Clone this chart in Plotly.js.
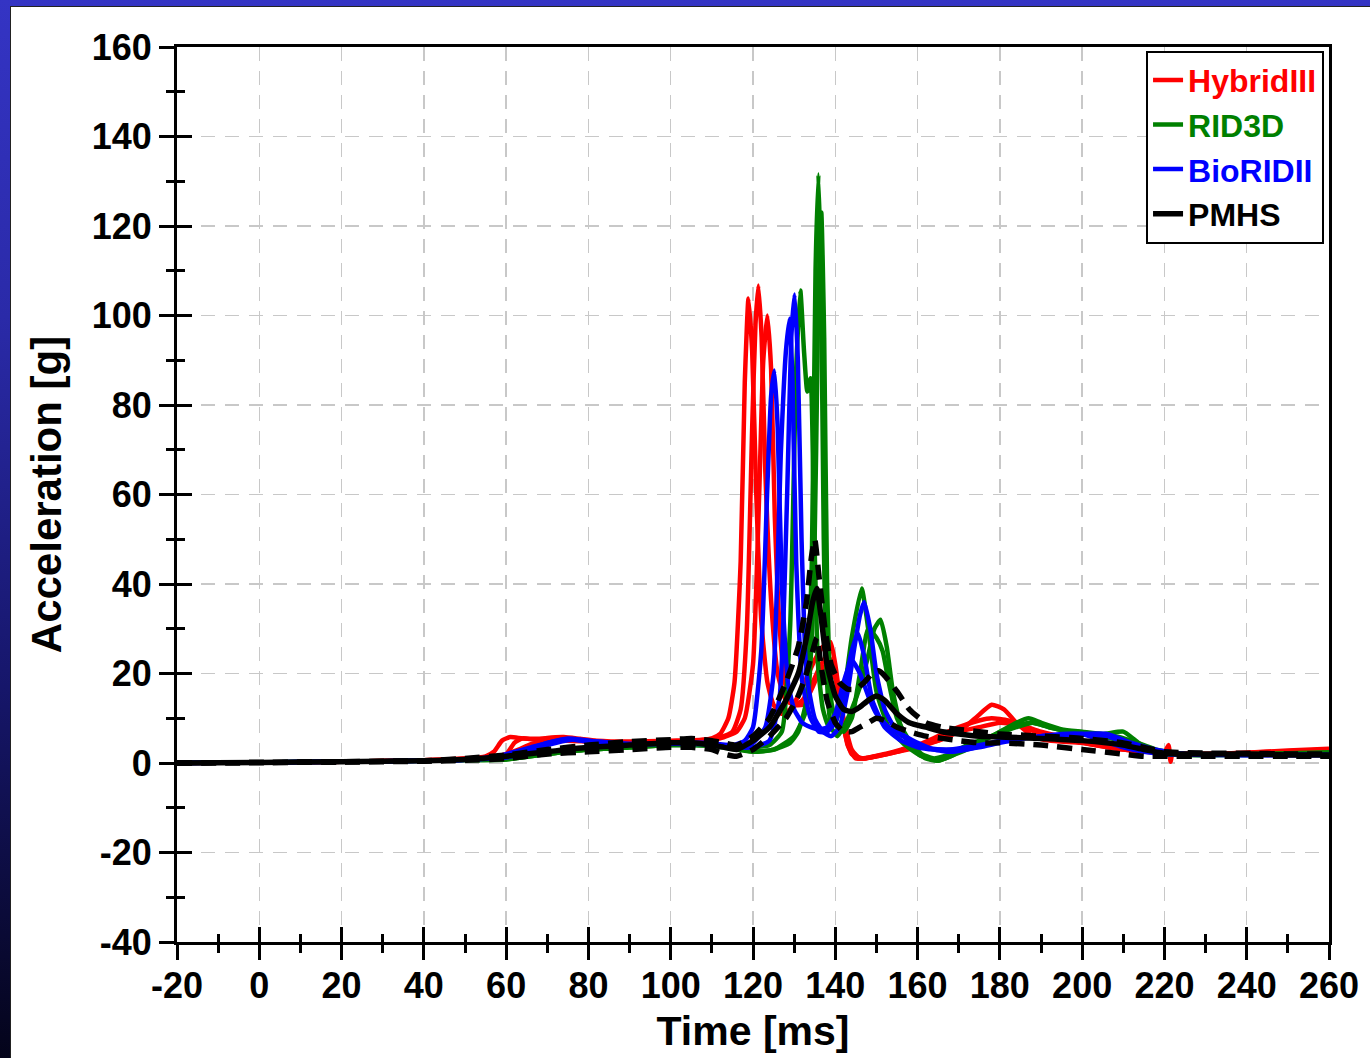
<!DOCTYPE html>
<html><head><meta charset="utf-8">
<script src="https://cdn.plot.ly/plotly-3.0.1.min.js"></script>
<style>
html,body{margin:0;padding:0;width:1370px;height:1058px;overflow:hidden;}
body{background:linear-gradient(to bottom,#3434c4 0%,#2a2aa8 30%,#16166a 65%,#04041a 100%);}
#chart{position:absolute;left:10px;top:6px;width:1360px;height:1052px;background:#fff;border-left:1px solid #222;border-top:1px solid #222;box-sizing:border-box;}
</style></head>
<body><div id="chart"></div>
<script>
// ---- data (time in ms, acceleration in g) ----
const hy1T=[-20,0,20,40,50,55,57,59,61,64,68,72,76,80,90,100,106,110,112,114,115.5,117,118,118.9,119.8,120.8,122,123.5,125,127,129,131,133,135,137,138.8,140,141.5,143,145,148,152,156,160,165,170,174,178,181,184,188,192,200,210,220,221,221.5,222,230,240,250,260];
const hy1V=[0,0.1,0.3,0.6,1,1.5,2.5,5,5.8,5.5,5.4,5.6,5.2,4.8,4.6,4.8,5,5.5,6.5,10,18,45,85,103.8,92,60,32,18,13,11,12,15,19,23,26,27,22,12,4,1,1.2,2,3,4,5,7,10,13,12,9,6,5,4.5,3,2.5,4,0.3,2,2,2.3,2.8,3.2];
const hy2T=[-20,0,20,40,50,55,60,62,64,67,70,74,78,82,90,100,108,112,115,117,118.5,119.8,120.6,121.3,122.1,123,124.5,126,128,130,132,134,136,138,139.5,141,142.5,144,147,150,155,160,165,170,175,178,182,186,190,195,200,210,220,230,240,250,260];
const hy2V=[0,0.1,0.3,0.6,1,1.2,2,4.5,5.5,5.2,5.6,5.8,5.4,5,4.8,5,5.2,5.8,7,12,30,75,98,106.7,95,65,35,20,14,13,14,17,21,24,22,14,6,2,1,1.5,2.5,4,6,8,9.5,10,9.5,8,6.5,5.5,4.5,3,2.2,2,2.3,2.6,3];
const hy3T=[-20,0,20,40,50,55,60,63,66,70,75,80,90,100,108,112,116,118,120,121.5,122.5,123.5,124.4,125.3,126.5,128,130,132,134,136,138,140,142,144,146,150,155,160,165,170,175,180,185,190,200,210,220,230,240,250,260];
const hy3V=[0,0.1,0.3,0.6,0.8,1,2,3,4.2,4.8,5,4.8,4.5,4.8,5,5.5,7,10,22,60,90,100,88,55,30,17,13,13,16,20,22,19,10,3,1,1.5,2.5,3.5,5,7,8,9,8.5,7,5,3.5,2.2,2,2.2,2.5,2.8];

const rd1T=[-20,0,20,40,50,60,65,70,80,90,100,110,115,120,124,127,129,130.5,131.5,132.4,133.2,134,134.8,135.8,137,138.5,140,142,144,146.4,148,150,153,157,161,165,168,172,176,180,184,187,190,195,200,205,210,213,216,220,230,240,250,260];
const rd1V=[0,0.1,0.3,0.5,0.7,1,1.5,2.5,3,3.5,4,4,3.5,3.5,4,7,30,88,105.6,92,83,86,55,22,12,8,9,15,28,39,30,16,8,4,1.5,0.5,1.5,3,5,7,9,10,9,7.5,7,6.5,7,5,3,2,1.8,2,2.2,2.4];
const rd2T=[-20,0,20,40,50,60,70,80,90,100,110,115,120,125,129,131,133,134.3,135.2,135.9,136.5,137.2,138,139,140.5,142,144,146,148,149.5,151,152.5,154,156,159,162,165,168,172,178,184,188,192,200,208,212,218,225,240,260];
const rd2V=[0,0.1,0.3,0.5,0.7,0.8,2,3,3.5,4,4,3.5,2.5,3,4.5,7,14,45,110,131.5,110,50,18,8,6,8,12,17,24,30,32,26,16,8,3,1,0.5,1.5,3.5,6,8.5,9,8,6.5,6,5,3,2,1.8,2];
const rd3T=[-20,0,20,40,50,60,70,80,90,100,110,116,120,125,130,133,134.8,135.8,136.6,137.3,138,139,140.5,142,144,146,148,150,151.5,153,155,158,161,164,168,172,178,184,188,192,200,210,220,240,260];
const rd3V=[0,0.1,0.3,0.5,0.6,0.8,2,3,3.5,4,3.8,3,2.5,3,6,12,40,100,123,95,40,14,8,7,10,20,30,28,25,18,10,5,2,1,2,4,6,8,9,8,6.5,5,2,1.8,2];

const br1T=[-20,0,20,40,50,58,62,66,70,75,78,82,90,100,108,115,118,120,122,123.5,124.4,125.2,126,127,128.5,130,132,134,136,138,140,142,144,146,148,150,153,157,160,164,168,172,176,180,185,190,195,200,205,210,215,220,230,240,250,260];
const br1V=[0,0.1,0.3,0.5,0.7,1.5,2.5,3.5,4.5,5.3,5,4.5,4.2,4.5,4.5,4,5,8,25,62,82,87.7,75,40,18,12,9,8,7.5,8,11,18,23,20,15,11,8,6,4.5,3,2.5,3,4,5,5.5,6,6.5,6.5,5,3.5,2.5,2,1.8,1.8,1.8,1.8];
const br2T=[-20,0,20,40,50,60,65,70,75,80,90,100,110,116,120,123,125,126.8,128,128.9,129.6,130.5,132,134,136,138,140,142,144,145.5,147,149,152,156,160,164,168,172,178,185,192,200,206,212,218,225,240,260];
const br2V=[0,0.1,0.3,0.5,0.7,1.5,3,4.5,5.5,5,4.3,4.5,4.3,3.5,4.5,8,20,70,92,99.3,85,45,18,10,7,7,9,16,25,29,24,14,8,5,3.5,3,3,3.5,4.5,5.5,6,6.5,6,4,2.5,2,1.8,1.8];
const br3T=[-20,0,20,40,50,60,65,70,76,80,90,100,110,116,120,124,126.5,128.3,129.3,130.1,130.9,131.8,133,135,137,139,141,143,144.5,146,147,148.5,150,152,155,158,162,166,170,175,180,186,192,200,206,212,218,225,240,260];
const br3V=[0,0.1,0.3,0.5,0.7,1.2,2.5,4,5.2,5,4.2,4.3,4.2,3.5,3.5,5,15,60,95,104.7,90,50,20,10,7,6,8,16,25,33,36,30,20,12,7,5,3.5,3,3,3.5,4.5,5.5,6,6.5,6.5,4.5,3,2,1.8,1.8];

const pmT=[-20,0,20,40,50,60,70,80,90,100,105,110,113,116,120,124,128,131,133,134.5,135.5,136.5,138,140,142,144,146,148,150,152,155,158,162,166,170,175,180,190,200,210,215,220,225,230,240,250,260];
const pmV=[0,0.1,0.3,0.5,0.8,1.5,2.5,3.5,4,4.5,4.5,4,3.5,3,5,8,14,20,28,36,39,33,22,15,12,11.5,12.5,14,15,14,11,9,8,7,6.5,6,5.8,5.5,5,4,3,2.2,2,2,2,1.8,1.8];
const puT=[-20,0,20,40,50,60,70,80,90,100,105,110,113,116,120,124,128,131,133,134.2,135,136,137.5,139,141,143,145,147,149,150.5,152,155,158,162,166,170,175,180,190,200,210,215,220,230,240,250,260];
const puV=[0,0.1,0.3,0.5,1,1.8,3,4,4.8,5.2,5.5,5,4.5,4,6,10,18,26,36,46,50,42,30,22,18,16.5,16.5,18,20,20.6,19.5,16,12,9,8,7.5,7,6.5,6,5.5,4.5,3.5,2.5,2.2,2.2,2,2];
const plT=[-20,0,20,40,50,60,70,80,90,100,105,110,113,116,120,124,128,131,133,134.5,135.5,136.5,138,140,142,144,146,148,150,152,155,158,162,166,170,175,180,190,200,210,215,220,230,240,250,260];
const plV=[0,0.1,0.2,0.4,0.6,1,2,2.5,3,3.5,3.5,3,2,1.5,3,6,10,15,20,25,28,22,14,9,7,7,8,9,10,9.5,8,7,6,5.5,5,4.5,4.5,4,3,2,1.5,1.5,1.5,1.5,1.5,1.5];

const seriesNames=['HybridIII','RID3D','BioRIDII','PMHS'];
const seriesColors=['#ff0000','#008000','#0000ff','#000000'];
const xTickVals=[-20,0,20,40,60,80,100,120,140,160,180,200,220,240,260];
const yTickVals=[-40,-20,0,20,40,60,80,100,120,140,160];

// ---- traces ----
function tr(x,y,gi,show,dash,w){
  return {x:x,y:y,type:'scatter',mode:'lines',legendgroup:seriesNames[gi],
    name:'<span style="color:'+seriesColors[gi]+'">'+seriesNames[gi]+'</span>',
    showlegend:show,line:{color:seriesColors[gi],width:w||4.5,dash:dash||'solid',shape:'spline',smoothing:0.5},hoverinfo:'skip'};
}
const data=[
  tr(hy1T,hy1V,0,true),tr(hy2T,hy2V,0,false),tr(hy3T,hy3V,0,false),
  tr(rd1T,rd1V,1,true),tr(rd2T,rd2V,1,false),tr(rd3T,rd3V,1,false),
  tr(br1T,br1V,2,true),tr(br2T,br2V,2,false),tr(br3T,br3V,2,false),
  tr(puT,puV,3,false,'15px,9px',5.5),tr(plT,plV,3,false,'15px,9px',5.5),tr(pmT,pmV,3,true,'solid',5.5),
  {x:[],y:[],xaxis:'x2',yaxis:'y2',showlegend:false,type:'scatter',mode:'lines'}
];

const font={family:'Arial, "Liberation Sans", sans-serif',color:'#000'};
const tickFont=Object.assign({},font,{size:36,weight:'bold'});
const layout={
  width:1359,height:1051,
  margin:{l:166,r:41,t:40,b:116},
  paper_bgcolor:'#ffffff',plot_bgcolor:'#ffffff',
  showlegend:true,
  legend:{x:0.9957,xanchor:'right',y:0.996,yanchor:'top',bgcolor:'#fff',bordercolor:'#000',borderwidth:2,
    font:Object.assign({},font,{size:32,weight:'bold'}),tracegroupgap:0,itemwidth:30},
  xaxis:{range:[-20,260],tickmode:'array',tickvals:xTickVals,ticktext:xTickVals.map(String),
    showgrid:true,gridcolor:'#c8c8c8',gridwidth:1.5,griddash:'14px,10px',zeroline:false,
    showline:true,linecolor:'#000',linewidth:3,mirror:true,
    ticks:'outside',ticklen:15,tickwidth:3,tickcolor:'#000',tickfont:tickFont,ticklabelstandoff:-5,
    minor:{dtick:10,ticks:'outside',ticklen:8,tickwidth:3,tickcolor:'#000',showgrid:false},
    title:{text:'Time [ms]',font:Object.assign({},font,{size:41,weight:'bold'}),standoff:12}},
  yaxis:{range:[-40,160],tickmode:'array',tickvals:yTickVals,ticktext:yTickVals.map(String),
    showgrid:true,gridcolor:'#c8c8c8',gridwidth:1.5,griddash:'14px,10px',zeroline:false,
    showline:true,linecolor:'#000',linewidth:3,mirror:true,
    ticks:'outside',ticklen:15,tickwidth:3,tickcolor:'#000',tickfont:tickFont,
    minor:{dtick:10,ticks:'outside',ticklen:8,tickwidth:3,tickcolor:'#000',showgrid:false},
    title:{text:'Acceleration [g]',font:Object.assign({},font,{size:42,weight:'bold'}),standoff:18}},
  xaxis2:{overlaying:'x',anchor:'y2',range:[-20,260],tickmode:'array',tickvals:xTickVals,showticklabels:false,
    showgrid:false,zeroline:false,showline:false,ticks:'inside',ticklen:15,tickwidth:3,tickcolor:'#000',
    minor:{dtick:10,ticks:'inside',ticklen:8,tickwidth:3,tickcolor:'#000',showgrid:false}},
  yaxis2:{overlaying:'y',anchor:'x2',range:[-40,160],tickmode:'array',tickvals:yTickVals,showticklabels:false,
    showgrid:false,zeroline:false,showline:false,ticks:'inside',ticklen:15,tickwidth:3,tickcolor:'#000',
    minor:{dtick:10,ticks:'inside',ticklen:8,tickwidth:3,tickcolor:'#000',showgrid:false}}
};
Plotly.newPlot('chart',data,layout,{displayModeBar:false,staticPlot:true});
</script></body></html>
